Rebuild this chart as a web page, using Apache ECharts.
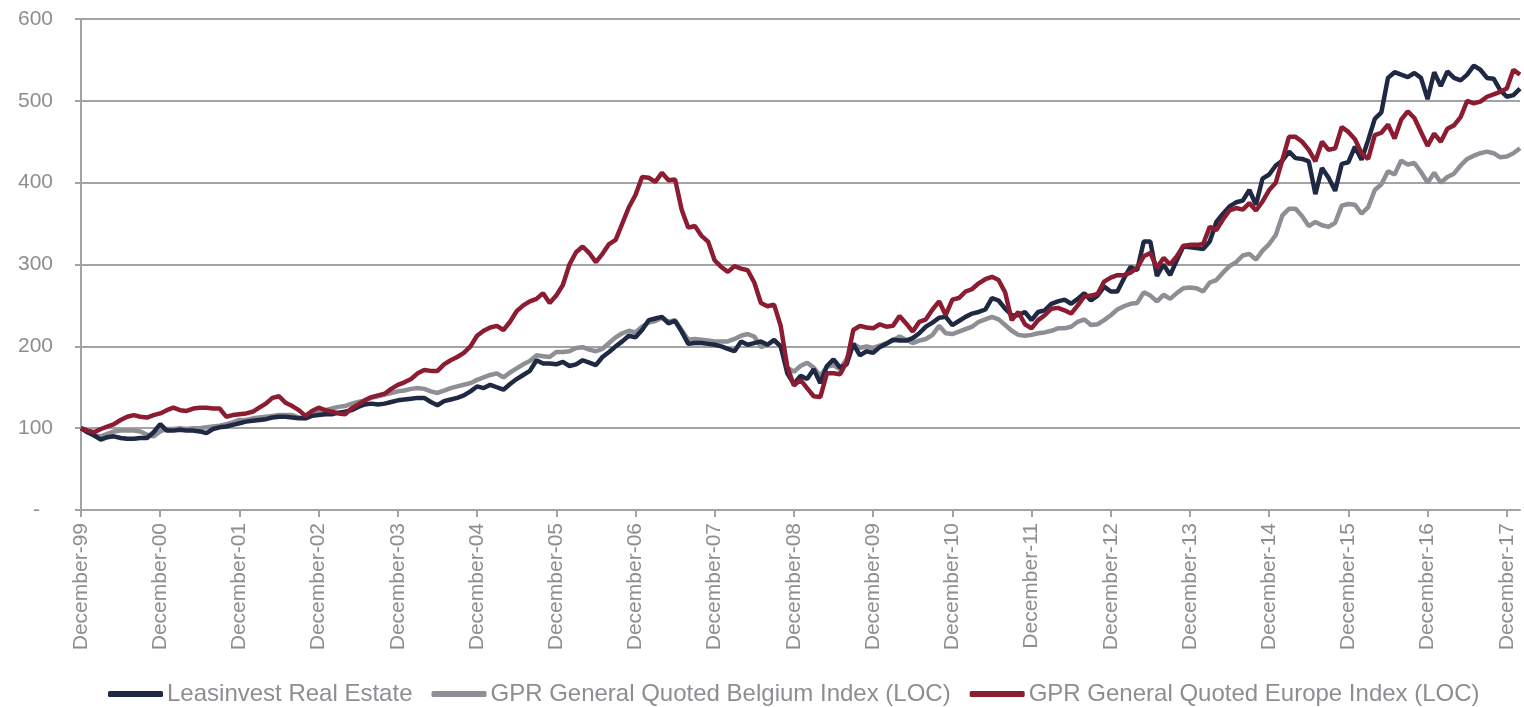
<!DOCTYPE html>
<html>
<head>
<meta charset="utf-8">
<script src="https://cdn.jsdelivr.net/npm/echarts@6/dist/echarts.min.js"></script>
<style>
  html, body { margin: 0; padding: 0; background: #fff; }
  #chart { width: 1524px; height: 707px; }
</style>
</head>
<body>
<div id="chart"></div>
<script>
// month names used to build the category axis (Dec-99 .. Feb-18)
const monthNames = ['December', 'January', 'February', 'March', 'April', 'May', 'June',
  'July', 'August', 'September', 'October', 'November'];
const firstYear = 99;
const monthCount = 219;

// index values, one per month, starting December 1999 = 100
const leasinvest = [
  100, 95, 91, 86, 89, 90, 88, 87, 87, 88, 88, 95,
  105, 97, 97, 98, 97, 97, 96, 94, 99, 101, 102, 104,
  106, 108, 109, 110, 111, 113, 114, 114, 113, 112, 112, 115,
  116, 117, 117, 119, 120, 122, 126, 129, 130, 129, 130, 132,
  134, 135, 136, 137, 137, 132, 128, 133, 135, 137, 140, 145,
  151, 149, 153, 150, 147, 154, 160, 165, 170, 183, 179, 179,
  178, 181, 176, 178, 183, 180, 177, 187, 193, 200, 206, 213,
  211, 220, 232, 234, 236, 228, 231, 218, 203, 204, 204, 203,
  202, 200, 197, 194, 206, 202, 204, 206, 202, 208, 200, 167,
  154, 164, 160, 172, 155, 176, 184, 174, 178, 203, 189, 194,
  192, 199, 203, 208, 207, 207, 210, 216, 224, 229, 235, 236,
  226, 231, 236, 240, 242, 245, 259, 256, 246, 238, 238, 242,
  232, 242, 244, 252, 255, 257, 252, 258, 265, 256, 262, 273,
  267, 267, 283, 297, 293, 328, 328, 286, 300, 287, 305, 322,
  321, 320, 319, 328, 352, 362, 371, 376, 378, 391, 373, 405,
  410, 421, 427, 438, 430, 429, 426, 386, 418, 406, 390, 423,
  425, 444, 428, 452, 478, 486, 528, 535, 532, 529, 534, 528,
  502, 535, 518, 536, 528, 525, 532, 543, 538, 528, 527, 513,
  505, 507, 515
];
const gprBelgium = [
  100, 95, 91, 90, 93, 96, 97, 97, 97, 96, 92, 90,
  96, 99, 99, 100, 99, 100, 100, 101, 102, 103, 105, 107,
  110, 110, 112, 113, 114, 115, 116, 116, 116, 113, 112, 116,
  119, 122, 124, 126, 127, 130, 132, 134, 137, 139, 141, 143,
  145, 146, 148, 149, 148, 145, 143, 146, 149, 151, 153, 155,
  159, 162, 165, 167, 162, 168, 173, 178, 182, 189, 188, 187,
  193, 193, 194, 198, 199, 196, 194, 197, 204, 211, 216, 219,
  217, 224, 229, 231, 235, 230, 232, 220, 208, 209, 208, 207,
  206, 206, 206, 209, 213, 215, 212, 199, 202, 207, 200, 174,
  169, 176, 180, 174, 164, 175, 177, 172, 185, 203, 198, 200,
  198, 201, 204, 207, 212, 208, 204, 207, 209, 214, 225, 216,
  215, 218, 221, 224, 230, 233, 236, 233, 226, 219, 214, 213,
  214, 216, 217, 219, 222, 222, 224, 230, 233, 226, 227, 232,
  238, 245, 249, 252, 253, 266, 262, 255, 263, 258, 265, 271,
  272, 271, 267, 278, 281, 290, 298, 303, 311, 313, 306, 317,
  325, 336, 360, 368, 368, 359, 347, 352, 348, 346, 351, 372,
  374, 373, 362, 370, 391, 398, 414, 410, 427, 422, 424, 413,
  400, 412, 400, 407, 411, 421, 429, 433, 436, 438, 436, 431,
  432, 436, 442
];
const gprEurope = [
  100, 97, 95, 99, 102, 105, 110, 114, 116, 114, 113, 116,
  118, 122, 125, 122, 121, 124, 125, 125, 124, 124, 114, 116,
  117, 118, 120, 125, 130, 137, 139, 131, 127, 122, 115, 121,
  125, 122, 120, 118, 117, 124, 129, 134, 138, 140, 142, 148,
  153, 156, 160, 167, 171, 170, 170, 178, 183, 187, 192, 200,
  213, 219, 223, 225, 220, 230, 243, 250, 255, 258, 265, 253,
  262, 275, 300, 315, 322, 314, 303, 313, 325, 330, 350, 370,
  385, 407, 406, 401, 412, 403, 404, 367, 345, 347, 335, 328,
  305, 297, 291, 298, 295, 293, 278, 253, 249, 251, 225, 175,
  152, 159, 149, 139, 138, 167, 167, 166, 181, 220, 225, 223,
  222, 227, 224, 225, 237, 228, 218, 230, 233, 245, 255, 238,
  257, 259, 267, 270, 277, 282, 285, 281, 266, 232, 242, 227,
  222, 232, 238, 246, 247, 244, 240, 250, 261, 262, 264, 279,
  284, 287, 287, 290, 296, 310, 314, 296, 308, 300, 310, 323,
  324, 324, 325, 346, 342, 355, 366, 369, 367, 375, 366, 377,
  391, 400, 428, 456, 456, 450, 440, 426, 450, 440, 442, 468,
  462, 453, 436, 429, 458, 461, 471, 454, 477, 487, 479, 462,
  445, 460, 450, 466, 470, 480, 500, 497, 499, 505, 508, 511,
  515, 538, 532
];

const seriesNames = ['Leasinvest Real Estate', 'GPR General Quoted Belgium Index (LOC)', 'GPR General Quoted Europe Index (LOC)'];
const seriesColors = ['#1f2944', '#8e8f94', '#8c1c31'];

const categories = [];
for (let i = 0; i < monthCount; i++) {
  const yr = (firstYear + Math.floor((i + 11) / 12)) % 100;
  categories.push(monthNames[i % 12] + '-' + String(yr).padStart(2, '0'));
}

const textColor = '#8d8d92';
const lineGrey = '#a3a3a3';

let myChart = echarts.init(document.getElementById('chart'));
let option = {
  animation: false,
  textStyle: { fontFamily: 'Liberation Sans, Arial, sans-serif' },
  grid: { left: 81, right: 4, top: 19, bottom: 197 },
  legend: {
    data: seriesNames,
    top: 677,
    left: 103,
    icon: 'roundRect',
    itemWidth: 55,
    itemHeight: 6,
    itemGap: 19,
    textStyle: { color: textColor, fontSize: 24, padding: [0, 0, 0, -1] }
  },
  xAxis: {
    type: 'category',
    data: categories,
    boundaryGap: false,
    axisLine: { lineStyle: { color: lineGrey, width: 2 } },
    axisTick: {
      interval: (idx) => idx % 12 === 0,
      length: 7,
      lineStyle: { color: lineGrey, width: 2 }
    },
    axisLabel: {
      interval: (idx) => idx % 12 === 0,
      rotate: 90,
      margin: 13,
      color: textColor,
      fontSize: 21
    },
    splitLine: { show: false }
  },
  yAxis: {
    type: 'value',
    min: 0,
    max: 600,
    interval: 100,
    axisLine: { show: true, lineStyle: { color: lineGrey, width: 2 } },
    axisTick: { show: true, length: 6, lineStyle: { color: lineGrey, width: 2 } },
    axisLabel: {
      color: textColor,
      fontSize: 21,
      margin: 28,
      formatter: (v) => (v === 0 ? '{dash|-}' : v),
      rich: { dash: { color: textColor, fontSize: 21, padding: [0, 13, 0, 0] } }
    },
    splitLine: { lineStyle: { color: lineGrey, width: 2 } }
  },
  series: [
    {
      name: seriesNames[0], type: 'line', data: leasinvest, z: 3,
      showSymbol: false, color: seriesColors[0],
      lineStyle: { width: 4.5, color: seriesColors[0] }
    },
    {
      name: seriesNames[1], type: 'line', data: gprBelgium, z: 2,
      showSymbol: false, color: seriesColors[1],
      lineStyle: { width: 4.5, color: seriesColors[1] }
    },
    {
      name: seriesNames[2], type: 'line', data: gprEurope, z: 4,
      showSymbol: false, color: seriesColors[2],
      lineStyle: { width: 4.5, color: seriesColors[2] }
    }
  ]
};
myChart.setOption(option);
</script>
</body>
</html>
